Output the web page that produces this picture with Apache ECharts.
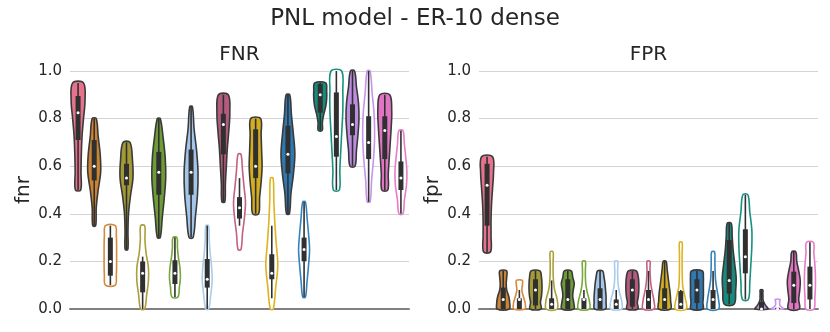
<!DOCTYPE html>
<html>
<head>
<meta charset="utf-8">
<script src="https://cdn.jsdelivr.net/npm/echarts@6/dist/echarts.min.js"></script>
<style>
  html, body { margin: 0; padding: 0; background: #fff; }
  #chart { width: 830px; height: 332px; }
</style>
</head>
<body>
<div id="chart"></div>
<script>
// 21 violins per panel: first one filled, then filled / outline pairs
var categories = ['c0','c1','c2','c3','c4','c5','c6','c7','c8','c9','c10',
                  'c11','c12','c13','c14','c15','c16','c17','c18','c19','c20'];
var slotColors = ['#e5738d','#cc8433','#d38a3c','#a39a35','#ab9f3c','#6d9c35','#76a83a',
                  '#a4c6ea','#a9cbee','#b45a7e','#c2627f','#d4ae1e','#dcb422','#2f79b3',
                  '#3383bd','#168a7c','#17917f','#be8ce3','#c794ec','#e274c4','#e87ccb'];
var slotFilled = [1,1,0,1,0,1,0,1,0,1,0,1,0,1,0,1,0,1,0,1,0];

// FNR: violin extent, box quartiles, whiskers, relative width profile (bottom -> top)
var fnrLo  = [0.50,0.35,0.10,0.25,0.00,0.30,0.05,0.30,0.00,0.45,0.25,0.40,0.00,0.40,0.05,0.75,0.50,0.60,0.45,0.50,0.40];
var fnrHi  = [0.95,0.80,0.35,0.70,0.35,0.80,0.30,0.85,0.35,0.90,0.65,0.80,0.55,0.90,0.45,0.95,1.00,1.00,1.00,0.90,0.75];
var fnrQ1  = [0.71,0.54,0.14,0.52,0.07,0.48,0.105,0.48,0.09,0.65,0.38,0.55,0.125,0.57,0.20,0.825,0.64,0.73,0.63,0.63,0.50];
var fnrMed = [0.825,0.60,0.20,0.55,0.15,0.575,0.15,0.575,0.125,0.775,0.425,0.60,0.15,0.65,0.25,0.90,0.725,0.775,0.70,0.75,0.55];
var fnrQ3  = [0.895,0.71,0.30,0.61,0.20,0.66,0.205,0.67,0.21,0.82,0.47,0.755,0.23,0.77,0.30,0.945,0.91,0.86,0.81,0.81,0.62];
var fnrWLo = [0.50,0.35,0.10,0.25,0.00,0.30,0.05,0.30,0.00,0.45,0.35,0.40,0.045,0.40,0.05,0.75,0.50,0.60,0.45,0.50,0.40];
var fnrWHi = [0.95,0.80,0.35,0.70,0.22,0.80,0.30,0.85,0.35,0.90,0.55,0.80,0.35,0.90,0.45,0.95,1.00,1.00,1.00,0.90,0.75];
var fnrShape = [
  [0.38,0.42,0.47,0.57,0.78,1.00,0.78],
  [0.21,0.29,0.57,0.93,0.86,0.57,0.29],
  [0.71,0.86,0.90,0.90,0.90,0.86,0.71],
  [0.19,0.21,0.29,0.57,0.93,0.86,0.50],
  [0.29,0.57,0.83,0.83,0.50,0.33,0.29],
  [0.21,0.50,0.79,1.00,0.93,0.64,0.21],
  [0.43,0.64,0.79,0.71,0.50,0.36,0.29],
  [0.29,0.64,0.93,1.00,0.79,0.43,0.19],
  [0.21,0.50,0.71,0.64,0.43,0.29,0.19],
  [0.21,0.29,0.43,0.57,0.79,0.93,0.71],
  [0.21,0.43,0.71,0.86,0.64,0.43,0.21],
  [0.43,0.57,0.79,0.93,0.86,0.79,0.71],
  [0.21,0.57,0.86,0.64,0.43,0.29,0.19],
  [0.21,0.43,0.79,1.00,0.79,0.50,0.26],
  [0.19,0.43,0.64,0.79,0.64,0.43,0.19],
  [0.29,0.31,0.50,0.79,0.93,0.93,0.79],
  [0.43,0.50,0.64,0.79,0.93,0.93,0.76],
  [0.36,0.57,0.79,0.93,0.86,0.57,0.29],
  [0.21,0.43,0.71,0.86,0.79,0.50,0.21],
  [0.43,0.50,0.64,0.79,0.93,1.00,0.71],
  [0.29,0.50,0.79,0.86,0.71,0.50,0.29]
];

// FPR
var fprLo  = [0.24,0,0,0,0,0,0,0,0,0,0,0,0,0,0,0.02,0.04,0,0,0,0];
var fprHi  = [0.64,0.16,0.12,0.16,0.24,0.16,0.20,0.16,0.20,0.16,0.20,0.20,0.28,0.16,0.24,0.36,0.48,0.08,0.04,0.24,0.28];
var fprQ1  = [0.35,0,0,0.015,0,0,0,0,0,0.01,0,0,0,0.025,0,0.065,0.15,0,0,0.025,0.04];
var fprMed = [0.52,0.04,0.04,0.08,0.02,0.04,0.04,0.04,0.02,0.08,0.04,0.04,0.02,0.08,0.04,0.12,0.22,0.0,0.0,0.10,0.10];
var fprQ3  = [0.61,0.09,0.045,0.125,0.045,0.125,0.045,0.087,0.04,0.125,0.08,0.087,0.075,0.125,0.08,0.29,0.335,0.03,0.005,0.157,0.178];
var fprWLo = [0.24,0,0,0,0,0,0,0,0,0,0,0,0,0,0,0.02,0.04,0,0,0,0];
var fprWHi = [0.64,0.16,0.08,0.16,0.12,0.16,0.08,0.16,0.08,0.16,0.16,0.20,0.08,0.16,0.16,0.36,0.48,0.08,0.0,0.24,0.28];
var fprShape = [
  [0.50,0.57,0.57,0.64,0.79,0.93,0.79],
  [0.86,0.93,0.79,0.50,0.43,0.50,0.50],
  [0.79,0.86,0.71,0.50,0.36,0.43,0.43],
  [0.79,0.71,0.86,0.93,0.93,0.86,0.64],
  [0.79,0.79,0.43,0.26,0.21,0.21,0.21],
  [0.86,0.86,0.71,0.79,0.93,0.71,0.50],
  [0.79,0.79,0.50,0.29,0.21,0.21,0.21],
  [0.79,0.86,0.86,0.79,0.71,0.57,0.36],
  [0.79,0.79,0.50,0.29,0.21,0.21,0.21],
  [0.79,0.71,0.86,0.93,0.93,0.86,0.57],
  [0.79,0.79,0.57,0.36,0.26,0.21,0.21],
  [0.86,0.86,0.79,0.64,0.50,0.36,0.21],
  [0.79,0.64,0.29,0.21,0.19,0.19,0.19],
  [0.86,0.86,0.93,0.93,0.93,0.93,0.79],
  [0.79,0.79,0.57,0.36,0.29,0.26,0.21],
  [0.71,0.93,1.00,0.79,0.57,0.43,0.29],
  [0.43,0.64,0.79,0.93,0.93,0.64,0.36],
  [0.93,0.64,0.36,0.21,0.21,0.19,0.19],
  [0.86,0.64,0.36,0.29,0.29,0.29,0.36],
  [0.79,0.71,0.86,0.93,0.71,0.43,0.29],
  [0.57,0.71,0.79,0.79,0.71,0.57,0.50]
];

var FONT = 'DejaVu Sans';
var INK = '#262626';
var BOX = '#303030';

function violinRender(lo, hi, q1, med, q3, wlo, whi, shape) {
  return function (params, api) {
    var i = api.value(0);
    var band = api.size([1, 0])[0];
    var maxHalf = band * 0.43;
    var cx = api.coord([i, 0])[0];
    var prof = shape[i];
    var n = prof.length;
    var right = [], left = [];
    for (var k = 0; k < n; k++) {
      var v = lo[i] + (hi[i] - lo[i]) * k / (n - 1);
      var y = api.coord([i, v])[1];
      var w = prof[k] * maxHalf;
      right.push([cx + w, y]);
      left.unshift([cx - w, y]);
    }
    var filled = slotFilled[i] === 1;
    var yq1 = api.coord([i, q1[i]])[1];
    var yq3 = api.coord([i, q3[i]])[1];
    var ym = api.coord([i, med[i]])[1];
    return {
      type: 'group',
      children: [
        {
          type: 'polygon',
          shape: { points: right.concat(left), smooth: 0.35 },
          style: {
            fill: filled ? slotColors[i] : '#ffffff',
            stroke: filled ? '#3a3a3a' : slotColors[i],
            lineWidth: 1.6
          }
        },
        {
          type: 'line',
          shape: { x1: cx, y1: api.coord([i, wlo[i]])[1], x2: cx, y2: api.coord([i, whi[i]])[1] },
          style: { stroke: BOX, lineWidth: 1.6 }
        },
        {
          type: 'rect',
          shape: { x: cx - 2.5, y: yq3, width: 5, height: Math.max(yq1 - yq3, 1) },
          style: { fill: BOX }
        },
        {
          type: 'circle',
          shape: { cx: cx, cy: ym, r: 1.5 },
          style: { fill: '#ffffff' }
        }
      ]
    };
  };
}

var chart = echarts.init(document.getElementById('chart'), null, { renderer: 'canvas' });

function yAxisFor(name, gridIndex) {
  return {
    type: 'value', gridIndex: gridIndex, min: 0, max: 1, interval: 0.2,
    name: name, nameLocation: 'middle', nameGap: 36, nameRotate: 90,
    nameTextStyle: { fontFamily: FONT, fontSize: 20, color: INK },
    axisLine: { show: false }, axisTick: { show: false },
    axisLabel: { fontFamily: FONT, fontSize: 15, color: INK, margin: 8,
                 formatter: function (v) { return v.toFixed(1); } },
    splitLine: { lineStyle: { color: '#d4d4d4', width: 1 } }
  };
}

function xAxisFor(gridIndex) {
  return {
    type: 'category', gridIndex: gridIndex, data: categories,
    axisLine: { show: true, lineStyle: { color: '#808080', width: 2 } },
    axisTick: { show: false }, axisLabel: { show: false }, splitLine: { show: false }
  };
}

var idx = categories.map(function (c, i) { return [i]; });

chart.setOption({
  backgroundColor: '#ffffff',
  animation: false,
  title: {
    text: 'PNL model - ER-10 dense', left: 'center', top: 3,
    textStyle: { fontFamily: FONT, fontSize: 23, fontWeight: 'normal', color: INK }
  },
  graphic: [
    { type: 'text', x: 239.5, y: 55, style: { text: 'FNR', fontFamily: FONT, fontSize: 20,
      fill: INK, textAlign: 'center', textVerticalAlign: 'middle' } },
    { type: 'text', x: 648.5, y: 55, style: { text: 'FPR', fontFamily: FONT, fontSize: 20,
      fill: INK, textAlign: 'center', textVerticalAlign: 'middle' } }
  ],
  grid: [
    { left: 70, right: 421, top: 71, bottom: 23 },
    { left: 479, right: 12, top: 71, bottom: 23 }
  ],
  xAxis: [xAxisFor(0), xAxisFor(1)],
  yAxis: [yAxisFor('fnr', 0), yAxisFor('fpr', 1)],
  series: [
    {
      type: 'custom', xAxisIndex: 0, yAxisIndex: 0, data: idx,
      renderItem: violinRender(fnrLo, fnrHi, fnrQ1, fnrMed, fnrQ3, fnrWLo, fnrWHi, fnrShape)
    },
    {
      type: 'custom', xAxisIndex: 1, yAxisIndex: 1, data: idx,
      renderItem: violinRender(fprLo, fprHi, fprQ1, fprMed, fprQ3, fprWLo, fprWHi, fprShape)
    }
  ]
});
</script>
</body>
</html>
